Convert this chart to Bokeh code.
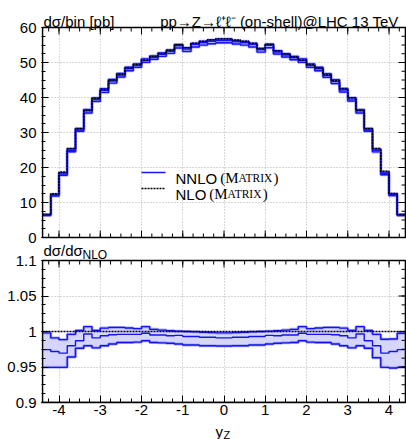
import math
from bokeh.plotting import figure
from bokeh.models import Range1d, FixedTicker, Label, Grid
from bokeh.layouts import column
from bokeh.embed import file_html
from bokeh.resources import INLINE

# ---------------- data ----------------
bin_edges = [-4.4, -4.2, -4.0, -3.8, -3.6, -3.4, -3.2, -3.0, -2.8, -2.6, -2.4,
             -2.2, -2.0, -1.8, -1.6, -1.4, -1.2, -1.0, -0.8, -0.6, -0.4, -0.2,
             0.0, 0.2, 0.4, 0.6, 0.8, 1.0, 1.2, 1.4, 1.6, 1.8, 2.0, 2.2, 2.4,
             2.6, 2.8, 3.0, 3.2, 3.4, 3.6, 3.8, 4.0, 4.2, 4.4]

# NLO cross section per bin [pb]
nlo = [6.6, 12.5, 18.7, 25.4, 31.1, 36.3, 39.8, 42.3, 44.9, 46.6, 48.4,
       49.4, 50.7, 51.7, 52.6, 53.5, 55.1, 54.2, 55.5, 56.1, 56.5, 56.8,
       56.8, 56.4, 56.1, 55.5, 54.0, 55.2, 53.3, 52.4, 51.6, 50.7, 49.4,
       48.4, 46.5, 44.8, 42.4, 39.9, 36.3, 31.1, 25.4, 18.9, 12.6, 6.6]

# NNLO / NLO : central value, upper and lower edge of the scale band
ratio_central = [0.9745, 0.9718, 0.9695, 0.980, 0.987, 0.9965, 0.991, 0.994, 0.9955, 0.996, 0.996,
                 0.996, 0.9975, 0.995, 0.995, 0.994, 0.9945, 0.993, 0.993, 0.992, 0.992, 0.991,
                 0.991, 0.992, 0.992, 0.993, 0.993, 0.9945, 0.994, 0.995, 0.995, 0.9975, 0.996,
                 0.996, 0.996, 0.9955, 0.994, 0.991, 0.9965, 0.987, 0.980, 0.9695, 0.9718, 0.9745]
ratio_up = [0.998, 0.991, 0.9885, 0.996, 1.0015, 1.0068, 1.0015, 1.0048, 1.0058, 1.0058, 1.005,
            1.004, 1.0068, 1.003, 1.002, 1.001, 1.0005, 1.0, 0.9995, 0.999, 0.9985, 0.998,
            0.998, 0.9985, 0.999, 0.9995, 1.0, 1.0005, 1.001, 1.002, 1.003, 1.0068, 1.004,
            1.005, 1.0058, 1.0058, 1.0048, 1.0015, 1.0068, 1.0015, 0.996, 0.989, 0.9895, 0.9975]
ratio_down = [0.9495, 0.9495, 0.9495, 0.964, 0.9765, 0.980, 0.977, 0.980, 0.9825, 0.9845, 0.9845,
              0.985, 0.987, 0.9845, 0.984, 0.9835, 0.9825, 0.981, 0.981, 0.980, 0.980, 0.9795,
              0.9795, 0.980, 0.980, 0.981, 0.981, 0.9825, 0.9835, 0.984, 0.9845, 0.987, 0.985,
              0.9845, 0.9845, 0.9825, 0.980, 0.977, 0.980, 0.9765, 0.963, 0.9495, 0.9485, 0.9495]

x_ticks = [-4, -3, -2, -1, 0, 1, 2, 3, 4]
x_tick_labels = ["-4", "-3", "-2", "-1", "0", "1", "2", "3", "4"]
top_y_ticks = [0, 10, 20, 30, 40, 50, 60]
top_y_tick_labels = ["0", "10", "20", "30", "40", "50", "60"]
ratio_y_ticks = [0.9, 0.95, 1.0, 1.05, 1.1]
ratio_y_tick_labels = ["0.9", "0.95", "1", "1.05", "1.1"]

top_lim = (0, 60)
ratio_lim = (0.9, 1.1)
XMIN, XMAX = -4.4, 4.4

title_left = "dσ/bin [pb]"
title_right = "pp→Z→ℓ⁺ℓ⁻ (on-shell)@LHC 13 TeV"
legend_names = ["NNLO", "NLO"]

# ---------------- derived ----------------
nnlo = [n * r for n, r in zip(nlo, ratio_central)]
nnlo_up = [n * r for n, r in zip(nlo, ratio_up)]
nnlo_down = [n * r for n, r in zip(nlo, ratio_down)]
nlo_ratio = [n / n for n in nlo]


def ext(v):
    return list(v) + [v[-1]]


x_minor = [round(-4.25 + 0.25 * i, 2) for i in range(35)]
top_minor = [2.5 * i for i in range(25)]
ratio_minor = [round(0.9 + 0.0125 * i, 4) for i in range(17)]

# ---------------- style / geometry (picture pixels) ----------------
FONT = "Liberation Sans"
SERIF = "Liberation Serif"
BLUE = "#1414f0"
HALO = "#9a9afa"
FILL = "#d6d6fc"
GRIDC = "#b0b0b0"

ORG = 0
W = 406
BOX_L, BOX_R = 42, 405          # panel box left/right
FR_L, FR_R = 41, 406            # plot frame left/right
TOP_Y0, TOP_Y60 = 237, 27       # y of 0 and 60 (upper panel)
RAT_LO, RAT_HI = 402, 260       # y of 0.9 and 1.1 (ratio panel)
A_TOP, A_FB, A_BOT = 0, 402, 421
B_BOT = 439

XPU = (BOX_R - BOX_L) / (XMAX - XMIN)
SY_TOP = (TOP_Y0 - TOP_Y60) / (top_lim[1] - top_lim[0])
SY_RAT = (RAT_LO - RAT_HI) / (ratio_lim[1] - ratio_lim[0])


def fx(px):
    return XMIN + (px - BOX_L) / XPU


def fy(py):
    return top_lim[0] + (TOP_Y0 - py) / SY_TOP


def fr(py):
    return ratio_lim[0] + (RAT_LO - py) / SY_RAT


def r2top(r):
    return fy(RAT_LO - (r - ratio_lim[0]) * SY_RAT)


xr = Range1d(fx(FR_L), fx(FR_R))
pa = figure(width=W, height=A_BOT - A_TOP, x_range=xr, y_range=Range1d(fy(A_FB), fy(A_TOP)),
            output_backend="svg", toolbar_location=None,
            min_border_left=FR_L - ORG, min_border_right=ORG + W - FR_R,
            min_border_top=0, min_border_bottom=A_BOT - A_FB)
pa.extra_y_ranges = {"ratio": Range1d(fr(A_FB), fr(A_TOP))}
pa.background_fill_color = "white"
pa.border_fill_color = "white"
pa.outline_line_color = None
for g in list(pa.xgrid) + list(pa.ygrid):
    g.visible = False

# --- left axis: shared by both panels ---
ya = pa.yaxis[0]
left_major = [float(v) for v in top_y_ticks] + [r2top(r) for r in ratio_y_ticks]
left_minor = [float(v) for v in top_minor] + [r2top(r) for r in ratio_minor]
ya.ticker = FixedTicker(ticks=left_major, minor_ticks=left_minor)
ovr = {}
for v, s in zip(top_y_ticks, top_y_tick_labels):
    ovr[float(v)] = s
for r, s in zip(ratio_y_ticks, ratio_y_tick_labels):
    ovr[r2top(r)] = s
ya.major_label_overrides = ovr
ya.axis_line_color = None

xa = pa.xaxis[0]
xa.ticker = FixedTicker(ticks=x_ticks, minor_ticks=x_minor)
xa.major_label_overrides = dict(zip(x_ticks, x_tick_labels))
xa.axis_line_color = "black"
xa.axis_line_width = 1.6

for ax, standoff in ((ya, 5), (xa, 2)):
    ax.major_tick_in = 7
    ax.major_tick_out = 0
    ax.minor_tick_in = 4
    ax.minor_tick_out = 0
    ax.major_tick_line_color = "black"
    ax.minor_tick_line_color = "black"
    ax.major_label_text_font = FONT
    ax.major_label_text_font_size = "15px"
    ax.major_label_text_color = "black"
    ax.major_label_standoff = standoff

# --- grids ---
has_cb = "cross_bounds" in Grid.properties()


def add_grid(dim, ticks, yrn, cross):
    kw = dict(dimension=dim, ticker=FixedTicker(ticks=ticks), grid_line_color=GRIDC,
              grid_line_dash="1 2", grid_line_width=1, y_range_name=yrn)
    if has_cb:
        kw["cross_bounds"] = cross
    pa.add_layout(Grid(**kw))


add_grid(1, top_y_ticks[1:-1], "default", (XMIN, XMAX))
add_grid(1, ratio_y_ticks[1:-1], "ratio", (XMIN, XMAX))
if has_cb:
    add_grid(0, x_ticks, "default", top_lim)
    add_grid(0, x_ticks, "ratio", ratio_lim)
else:
    n = len(x_ticks)
    pa.segment(x0=x_ticks, y0=[top_lim[0]] * n, x1=x_ticks, y1=[top_lim[1]] * n,
               line_color=GRIDC, line_dash="1 2", line_width=1, level="underlay")
    pa.segment(x0=x_ticks, y0=[ratio_lim[0]] * n, x1=x_ticks, y1=[ratio_lim[1]] * n,
               line_color=GRIDC, line_dash="1 2", line_width=1, level="underlay",
               y_range_name="ratio")


# --- histograms ---
def draw_hist(central, up, down, ref, yrn):
    pa.quad(left=bin_edges[:-1], right=bin_edges[1:], bottom=down, top=up,
            fill_color=FILL, line_color=FILL, line_width=0.8, y_range_name=yrn)
    for arr in (up, down):
        pa.step(x=bin_edges, y=ext(arr), mode="after", line_color=HALO, line_width=3,
                line_alpha=0.8, y_range_name=yrn)
    for arr in (up, down, central):
        pa.step(x=bin_edges, y=ext(arr), mode="after", line_color=BLUE, line_width=1.4,
                y_range_name=yrn)
    pa.step(x=bin_edges, y=ext(ref), mode="after", line_color="black", line_width=1.5,
            line_dash="2 1", y_range_name=yrn)


draw_hist(nnlo, nnlo_up, nnlo_down, nlo, "default")
draw_hist(ratio_central, ratio_up, ratio_down, nlo_ratio, "ratio")

# --- panel boxes ---
pa.quad(left=[XMIN], right=[XMAX], bottom=[top_lim[0]], top=[top_lim[1]],
        fill_color=None, line_color="black", line_width=1.6)
pa.quad(left=[XMIN], right=[XMAX], bottom=[ratio_lim[0]], top=[ratio_lim[1]],
        fill_color=None, line_color="black", line_width=1.6, y_range_name="ratio")


# --- inward ticks on the remaining sides ---
def rays(xs, ys, ang, ln, yrn="default"):
    pa.ray(x=xs, y=ys, length=ln, angle=ang, length_units="screen",
           line_color="black", line_width=1, y_range_name=yrn)


nx, nxm = len(x_ticks), len(x_minor)
rays(x_ticks, [top_lim[1]] * nx, -math.pi / 2, 7)
rays(x_minor, [top_lim[1]] * nxm, -math.pi / 2, 4)
rays(x_ticks, [top_lim[0]] * nx, math.pi / 2, 7)
rays(x_minor, [top_lim[0]] * nxm, math.pi / 2, 4)
rays([XMAX] * len(top_y_ticks), top_y_ticks, math.pi, 7)
rays([XMAX] * len(top_minor), top_minor, math.pi, 4)
rays(x_ticks, [ratio_lim[1]] * nx, -math.pi / 2, 7, "ratio")
rays(x_minor, [ratio_lim[1]] * nxm, -math.pi / 2, 4, "ratio")
rays([XMAX] * len(ratio_y_ticks), ratio_y_ticks, math.pi, 7, "ratio")
rays([XMAX] * len(ratio_minor), ratio_minor, math.pi, 4, "ratio")


def lab(fig, x, y, text, size="15px", font=FONT, align="left"):
    fig.add_layout(Label(x=x, y=y, text=text, text_font=font, text_font_size=size,
                         text_align=align, text_baseline="alphabetic", text_color="black"))


# --- titles ---
lab(pa, fx(43), fy(21), title_left)
lab(pa, fx(398), fy(21), title_right, align="right")

# --- legend ---
leg_rows = [(172, legend_names[0], BLUE, None, 41.7), (188, legend_names[1], "black", "2 1", 30.8)]
for py, name, col, dash, tw in leg_rows:
    kw = {} if dash is None else {"line_dash": dash}
    pa.segment(x0=[fx(141)], y0=[fy(py)], x1=[fx(165)], y1=[fy(py)],
               line_color=col, line_width=1.5, **kw)
    bl = fy(py + 5.5)
    x0 = 175
    lab(pa, fx(x0), bl, name)
    x1 = x0 + tw + 3
    lab(pa, fx(x1), bl, "(M", font=SERIF)
    x2 = x1 + 18.3
    lab(pa, fx(x2), bl, "ATRIX", size="11.5px", font=SERIF)
    x3 = x2 + 35.1
    lab(pa, fx(x3), bl, ")", font=SERIF)

# --- ratio label ---
lab(pa, fx(43), fy(250), "dσ/dσ")
lab(pa, fx(82), fy(254), "NLO", size="12px")

# ---------------- bottom strip with the x-axis title ----------------
pb = figure(width=W, height=B_BOT - A_BOT, x_range=xr, y_range=Range1d(0, B_BOT - A_BOT),
            output_backend="svg", toolbar_location=None,
            x_axis_location=None, y_axis_location=None,
            min_border_left=FR_L - ORG, min_border_right=ORG + W - FR_R,
            min_border_top=0, min_border_bottom=0)
pb.background_fill_color = "white"
pb.border_fill_color = "white"
pb.outline_line_color = None
for g in list(pb.xgrid) + list(pb.ygrid):
    g.visible = False
# strip y measured upward from the strip's bottom edge (picture y = B_BOT - value)
lab(pb, fx(215), B_BOT - 431, "y")
lab(pb, fx(223), B_BOT - 434, "Z", size="11px")

layout = column(pa, pb, spacing=0)
open("out.html", "w").write(file_html(layout, INLINE))
